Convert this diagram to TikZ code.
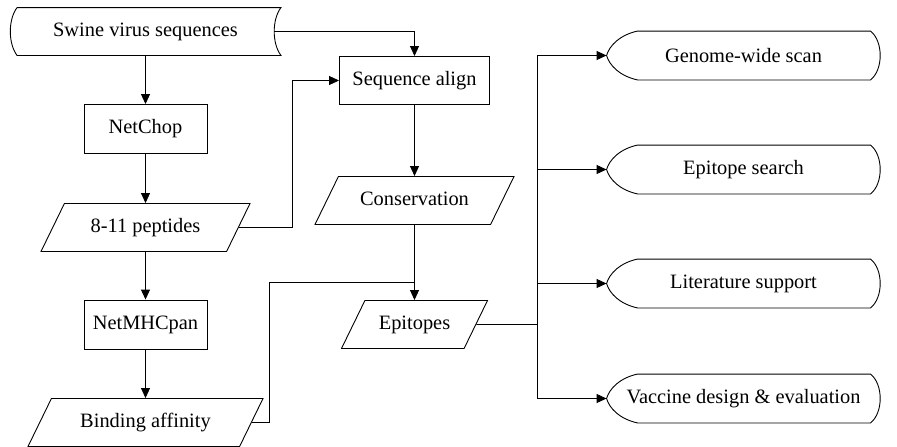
\documentclass[tikz,border=0pt]{standalone}
\usepackage{fontspec}
\setmainfont{Liberation Serif}
\usetikzlibrary{arrows.meta,shapes.geometric}

\tikzset{
    proc/.style={draw, minimum width=123pt, minimum height=49pt, inner sep=0pt},
    iodata/.style={draw, trapezium, trapezium left angle=64, trapezium right angle=116,
        trapezium stretches body, text height=14pt, text depth=4.5pt,
        inner xsep=0pt, inner ysep=14.75pt},
    display/.style={minimum width=273pt, minimum height=48pt, inner sep=0pt},
    flow/.style={-{Triangle[length=10pt,width=9pt]}},
}

\begin{document}
\begin{tikzpicture}[x=1pt, y=-1pt, line width=0.9pt, font=\fontsize{20.4}{24}\selectfont]
    \useasboundingbox (0,0) rectangle (897,447);

    % left column
    \node[minimum width=270pt, minimum height=47pt, inner sep=0pt] (swine) at (145.5,31.5) {Swine virus sequences};
    \node[proc] (netchop) at (145.5,129) {NetChop};
    \node[iodata, minimum width=209pt] (pep) at (145.5,227.5) {8-11 peptides};
    \node[proc] (mhc) at (145.5,324.5) {NetMHCpan};
    \node[iodata, minimum width=235pt] (bind) at (145.5,422.5) {Binding affinity};

    % middle column
    \node[proc, minimum width=150pt, minimum height=48pt] (align) at (414.5,80.5) {Sequence align};
    \node[iodata, minimum width=199pt] (cons) at (414.5,200.5) {Conservation};
    \node[iodata, minimum width=146pt] (epi) at (414.5,324.5) {Epitopes};

    % right column
    \node[display] (scan) at (743.5,55.5) {Genome-wide scan};
    \node[display] (search) at (743.5,169.5) {Epitope search};
    \node[display] (lit) at (743.5,283.5) {Literature support};
    \node[display] (vac) at (743.5,398.5) {Vaccine design \& evaluation};

    % outlines
    \draw ([xshift=7pt]swine.north west) -- (swine.north east)
        .. controls +(-9,12) and +(-9,-12) .. (swine.south east)
        -- ([xshift=7pt]swine.south west)
        .. controls +(-9,-12) and +(-9,12) .. ([xshift=7pt]swine.north west);
    \foreach \n in {scan,search,lit,vac}
        \draw ([xshift=31pt]\n.north west) -- ([xshift=-10pt]\n.north east)
            .. controls +(13,10) and +(13,-10) .. ([xshift=-10pt]\n.south east)
            -- ([xshift=31pt]\n.south west)
            .. controls +(-18,-4) and +(3,10) .. (\n.west)
            .. controls +(3,-10) and +(-18,4) .. ([xshift=31pt]\n.north west);

    \coordinate (merge) at (414.5,282.5);
    \coordinate (hub) at (537.5,324.5);

    % connectors
    \draw[flow] (swine.south) -- (netchop.north);
    \draw[flow] (netchop.south) -- (pep.north);
    \draw[flow] (pep.south) -- (mhc.north);
    \draw[flow] (mhc.south) -- (bind.north);
    \draw[flow] ([xshift=-7pt]swine.east) -| (align.north);
    \draw[flow] (pep.east) -- ++(54,0) |- (align.west);
    \draw[flow] (align.south) -- (cons.north);
    \draw[flow] (cons.south) -- (epi.north);
    \draw (bind.east) -- ++(18,0) |- (merge);
    \draw (epi.east) -- (hub);
    \foreach \n in {scan,search,lit,vac}
        \draw[flow] (hub) |- (\n.west);
\end{tikzpicture}
\end{document}
